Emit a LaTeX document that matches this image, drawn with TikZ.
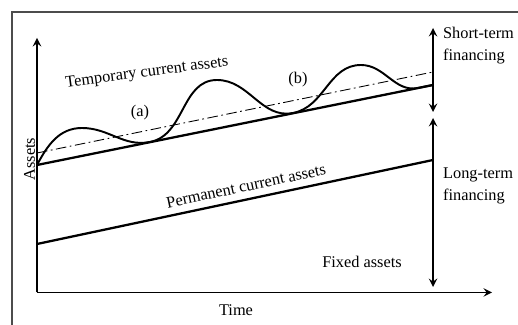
\documentclass[tikz,border=0pt]{standalone}
\usepackage{fontspec}
\setmainfont{Liberation Serif}
\usepackage{tikz}
\usetikzlibrary{
	arrows.meta,
	positioning,
	calc
}
\usepackage{xcolor}

\tikzset{
	axisline/.style={line width=1.1pt},
	levelline/.style={line width=1.3pt},
	trendline/.style={line width=0.5pt, dash pattern=on 6pt off 2pt on 1pt off 2pt},
	lbl/.style={font=\fontsize{9.3}{12.5}\selectfont, inner sep=1pt}
}

\begin{document}
\begin{tikzpicture}[>=stealth]
		\useasboundingbox (0,0) rectangle (10.36,6.5);
		
		% Frame
		\draw[gray!60!black, line width=0.6pt] (0.24,0) |- (10.36,6.26);
		
		% Axes
		\coordinate (O) at (0.74,0.65);
		\coordinate (ytop) at (0.74,5.74);
		\coordinate (xend) at (9.84,0.65);
		\draw[axisline,->] (O) -- (ytop);
		\draw[axisline,->] (O) -- (xend);
		\node[lbl, rotate=90] (assets) at (0.59,3.32) {Assets};
		\node[lbl] (time) at (4.72,0.30) {Time};
		
		% Fixed assets and permanent current assets
		\coordinate (f0) at (0.74,1.62);
		\coordinate (f1) at (8.66,3.30);
		\coordinate (p0) at (0.74,3.20);
		\coordinate (p1) at (8.66,4.80);
		\draw[levelline] (f0) -- (f1);
		\draw[levelline] (p0) -- (p1);
		
		% Dash-dot line
		\coordinate (d0) at (0.74,3.44);
		\coordinate (d1) at (8.66,5.06);
		\draw[trendline] (d0) -- (d1);
		
		% Temporary current assets
		\draw[levelline, line width=1.1pt] (p0) to[out=62,in=180] (1.64,3.94)
			to[out=0,in=191] (3.00,3.66)
			to[out=11,in=180] (4.34,4.90)
			to[out=0,in=191] (5.86,4.24)
			to[out=11,in=180] (7.22,5.20)
			to[out=0,in=191] (8.36,4.74) -- (p1);
		
		% Labels
		\node[lbl, rotate=7.5] (temp) at (2.94,5.04) {Temporary current assets};
		\node[lbl] (a) at (2.80,4.24) {(a)};
		\node[lbl] (b) at (5.96,4.90) {(b)};
		\node[lbl, rotate=12] (perm) at (4.92,2.78) {Permanent current assets};
		\node[lbl] (fixed) at (7.24,1.26) {Fixed assets};
		
		% Financing
		\coordinate (s0) at (8.66,5.94);
		\coordinate (s1) at (8.66,4.26);
		\coordinate (l0) at (8.66,4.14);
		\coordinate (l1) at (8.66,0.76);
		\draw[axisline,<->] (s0) -- (s1);
		\draw[axisline,<->] (l0) -- (l1);
		\node[lbl, anchor=west, align=left] (short) at (8.82,5.59) {Short-term\\financing};
		\node[lbl, anchor=west, align=left] (long) at (8.82,2.78) {Long-term\\financing};
		
	\end{tikzpicture}
\end{document}
